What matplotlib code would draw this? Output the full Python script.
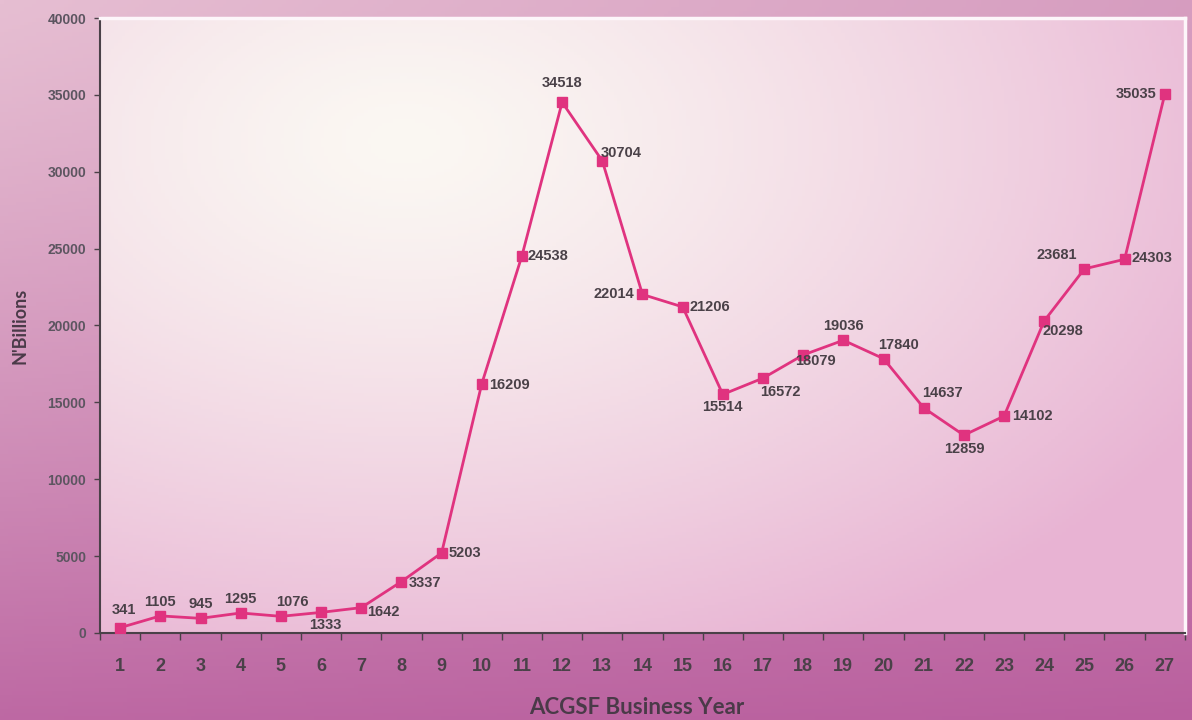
import numpy as np
import matplotlib.pyplot as plt
from matplotlib.colors import to_rgb

years = list(range(1, 28))
values = [341, 1105, 945, 1295, 1076, 1333, 1642, 3337, 5203, 16209,
          24538, 34518, 30704, 22014, 21206, 15514, 16572, 18079, 19036, 17840,
          14637, 12859, 14102, 20298, 23681, 24303, 35035]
y_ticks = [0, 5000, 10000, 15000, 20000, 25000, 30000, 35000, 40000]

# label offsets in points (dx, dy) and alignment per point
label_pos = {
    1: (3, 8, 'center', 'bottom'), 2: (0, 5, 'center', 'bottom'),
    3: (0, 5, 'center', 'bottom'), 4: (0, 5, 'center', 'bottom'),
    5: (8, 5, 'center', 'bottom'), 6: (3, -4, 'center', 'top'),
    7: (4, -3, 'left', 'center'), 8: (5, -1, 'left', 'center'),
    9: (5, 0, 'left', 'center'), 10: (5, -1, 'left', 'center'),
    11: (4, 0, 'left', 'center'), 12: (0, 9, 'center', 'bottom'),
    13: (-1, 6, 'left', 'center'), 14: (-6, 0, 'right', 'center'),
    15: (5, 0, 'left', 'center'), 16: (0, -4, 'center', 'top'),
    17: (-2, -5, 'left', 'top'), 18: (-6, -4, 'left', 'center'),
    19: (0, 5, 'center', 'bottom'), 20: (-4, 5, 'left', 'bottom'),
    21: (-1, 6, 'left', 'bottom'), 22: (0, -5, 'center', 'top'),
    23: (6, 0, 'left', 'center'), 24: (-1, -2, 'left', 'top'),
    25: (-5, 5, 'right', 'bottom'), 26: (5, 1, 'left', 'center'),
    27: (-6, 0, 'right', 'center'),
}

line_color = '#e0337f'
text_color = '#4a4148'

plt.rcParams['font.family'] = ['Liberation Sans', 'DejaVu Sans']
fig = plt.figure(figsize=(11.92, 7.2), dpi=100)

# page background: pink fading to magenta towards the bottom and right
bg = fig.add_axes([0, 0, 1, 1], zorder=-10)
bg.axis('off')
h, w = 200, 300
yy, xx = np.mgrid[0:1:h * 1j, 0:1:w * 1j]
top = np.array(to_rgb('#e6bed2'))
bottom = np.array(to_rgb('#b95f9e'))
t = np.clip(yy ** 1.2 * 0.9 + xx * 0.25 * (1 - yy) + xx * 0.1, 0, 1)[..., None]
img = top * (1 - t) + bottom * t
bg.imshow(img, aspect='auto', extent=[0, 1, 0, 1], origin='upper')
bg.set_xlim(0, 1)
bg.set_ylim(0, 1)

ax = fig.add_axes([0.084, 0.121, 0.91, 0.854])

# plot area: soft white glow fading into pink
yy2, xx2 = np.mgrid[1:0:h * 1j, 0:1:w * 1j]
d = np.sqrt(((xx2 - 0.28) / 1.0) ** 2 + ((yy2 - 0.8) / 1.1) ** 2)
s = np.clip(d / 0.85, 0, 1)[..., None] ** 1.3
inner = np.array(to_rgb('#fbf8f3'))
outer = np.array(to_rgb('#e8b3d3'))
ax.imshow(inner * (1 - s) + outer * s, aspect='auto',
          extent=[0.5, 27.5, 0, 40000], origin='upper', zorder=0)

ax.plot(years, values, color=line_color, lw=2, marker='s', markersize=7.5,
        markerfacecolor=line_color, markeredgecolor=line_color, zorder=3)

for x, v in zip(years, values):
    dx, dy, ha, va = label_pos[x]
    ax.annotate(str(v), (x, v), xytext=(dx, dy), textcoords='offset points',
                ha=ha, va=va, fontsize=10.5, fontweight='bold', color=text_color,
                zorder=4)

ax.set_xlim(0.5, 27.5)
ax.set_ylim(0, 40000)
ax.set_yticks(y_ticks)
ax.set_yticklabels([str(v) for v in y_ticks], fontsize=10, fontweight='bold',
                   color='#5c5560')
ax.set_xticks([x + 0.5 for x in [0] + years])
ax.set_xticklabels([])
ax.set_xticks(years, minor=True)
ax.set_xticklabels([str(x) for x in years], minor=True, fontsize=13,
                   fontweight='bold', color=text_color)
ax.tick_params(axis='x', which='major', direction='out', length=5, width=1,
               color='#4a4148')
ax.tick_params(axis='x', which='minor', length=0, pad=18)
ax.tick_params(axis='y', direction='out', length=4, width=1, color='#4a4148',
               pad=6)

for side in ('left', 'bottom'):
    ax.spines[side].set_color('#4a4148')
    ax.spines[side].set_linewidth(1.5)
for side in ('top', 'right'):
    ax.spines[side].set_color('#fdf6fa')
    ax.spines[side].set_linewidth(2.5)

ax.set_xlabel('ACGSF Business Year', fontsize=16, fontweight='bold',
              color='#4a3a48', family=['Lato', 'DejaVu Sans'], va='center')
ax.xaxis.set_label_coords(0.495, -0.122)
ax.set_ylabel("N'Billions", fontsize=13, fontweight='bold', color='#4a3a48',
              family=['Lato', 'DejaVu Sans'])
ax.yaxis.set_label_coords(-0.066, 0.5)

fig.savefig('out.png', dpi=100)
